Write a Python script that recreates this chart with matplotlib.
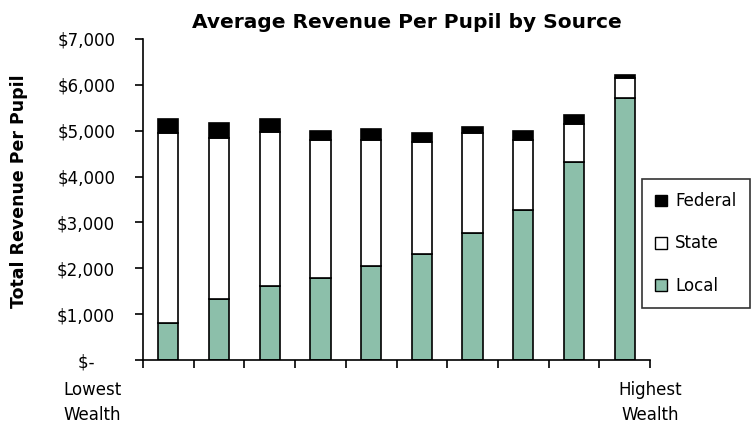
import matplotlib
matplotlib.use("Agg")
import matplotlib.pyplot as plt
from matplotlib.patches import Patch
from matplotlib.ticker import FuncFormatter
import numpy as np

# wealth deciles, lowest -> highest
local = [800, 1320, 1610, 1790, 2050, 2320, 2760, 3280, 4320, 5720]
state = [4140, 3520, 3360, 3000, 2740, 2440, 2180, 1510, 820, 440]
federal = [320, 330, 290, 200, 250, 200, 150, 200, 200, 50]
yticks = [0, 1000, 2000, 3000, 4000, 5000, 6000, 7000]

local_color = "#8cbfaa"

fig = plt.figure(figsize=(7.51, 4.29), dpi=100)
ax = fig.add_axes([143/751, 1-360/429, (650-143)/751, (360-39)/429])

x = np.arange(len(local))
w = 0.4
bottom_state = np.array(local)
bottom_fed = bottom_state + np.array(state)
ax.bar(x, local, w, color=local_color, edgecolor="black", linewidth=1.2)
ax.bar(x, state, w, bottom=bottom_state, color="white", edgecolor="black", linewidth=1.2)
ax.bar(x, federal, w, bottom=bottom_fed, color="black", edgecolor="black", linewidth=1.2)

ax.set_xlim(-0.5, len(local)-0.5)
ax.set_ylim(0, 7000)
ax.set_yticks(yticks)
# accounting style: zero shows as "$-"
ax.yaxis.set_major_formatter(FuncFormatter(lambda v, p: "$-    " if v == 0 else "${:,.0f}".format(v)))
ax.set_xticks(np.arange(len(local)+1)-0.5)
ax.set_xticklabels([])
ax.tick_params(axis="both", direction="out", length=6, width=1.2, labelsize=12, pad=14)
for s in ["top", "right"]:
    ax.spines[s].set_visible(False)
for s in ["left", "bottom"]:
    ax.spines[s].set_linewidth(1.2)

ax.text(-0.5-1.0, -450, "Lowest\nWealth", ha="center", va="top", fontsize=12, linespacing=1.55)
ax.text(len(local)-0.5, -450, "Highest\nWealth", ha="center", va="top", fontsize=12, linespacing=1.55)

ax.set_ylabel("Total Revenue Per Pupil", fontsize=12.5, fontweight="bold")
ax.yaxis.set_label_coords(-0.227, 0.526)
fig.text(407/751, 1-22/429, "Average Revenue Per Pupil by Source", ha="center", va="center",
         fontsize=14.5, fontweight="bold")

handles = [Patch(facecolor="black", edgecolor="black"),
           Patch(facecolor="white", edgecolor="black"),
           Patch(facecolor=local_color, edgecolor="black")]
leg = fig.legend(handles, ["Federal", "State", "Local"], loc="upper left",
                 bbox_to_anchor=(642/751, 1-179/429), fontsize=12, frameon=True,
                 fancybox=False, edgecolor="black", handlelength=0.7, handleheight=0.7,
                 handletextpad=0.5, labelspacing=1.45, borderpad=0.8, borderaxespad=0)
leg.get_frame().set_linewidth(1.2)

fig.savefig("out.png", dpi=100)
